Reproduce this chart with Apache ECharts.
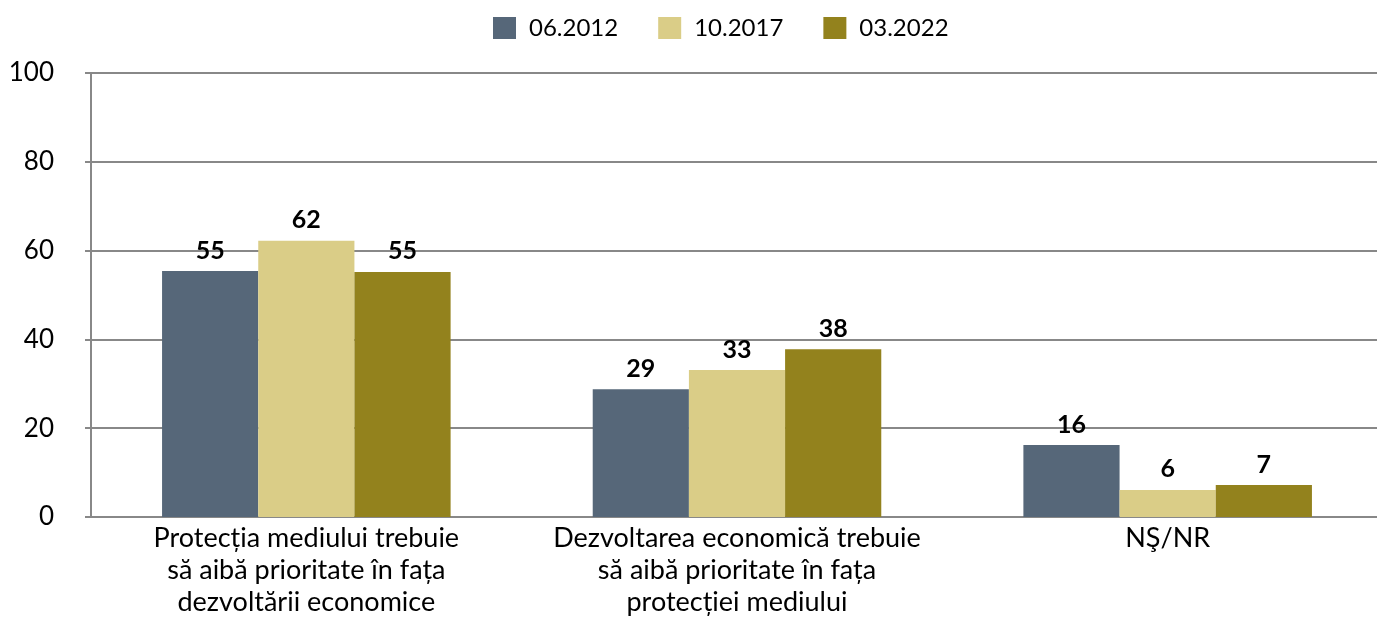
<!DOCTYPE html>
<html>
<head>
<meta charset="utf-8">
<script src="https://cdn.jsdelivr.net/npm/echarts@6/dist/echarts.min.js"></script>
<style>
  html, body { margin: 0; padding: 0; background: #fff; }
  #panel { width: 1377px; height: 619px; }
</style>
</head>
<body>
<div id="panel"></div>
<script>
// categorii si valori (%)
var categories = [
    'Protecția mediului trebuie\nsă aibă prioritate în fața\ndezvoltării economice',
    'Dezvoltarea economică trebuie\nsă aibă prioritate în fața\nprotecției mediului',
    'NŞ/NR'
];
var seriesNames = ['06.2012', '10.2017', '03.2022'];
var values2012 = [55.4, 28.8, 16.2];
var values2017 = [62.2, 33.1, 6.1];
var values2022 = [55.2, 37.8, 7.2];
var yTicks = [0, 20, 40, 60, 80, 100];

var colors = ['#566779', '#DACD87', '#93821D'];
var font = 'Lato';

chartDom = document.getElementById('panel');
myChart = echarts.init(chartDom);

function makeSeries(name, data, i) {
    return {
        name: name,
        type: 'bar',
        data: data,
        barGap: '0%',
        barCategoryGap: '33%',
        itemStyle: { color: colors[i] },
        label: {
            show: true,
            position: 'top',
            distance: 8,
            fontFamily: font,
            fontWeight: 'bold',
            fontSize: 25,
            color: '#000',
            formatter: function (p) { return Math.round(p.value); }
        }
    };
}

myChart.setOption({
    animation: false,
    textStyle: { fontFamily: font },
    legend: {
        top: 11,
        left: 488,
        itemWidth: 23,
        itemHeight: 22,
        itemGap: 40,
        icon: 'rect',
        textStyle: { fontFamily: font, fontSize: 24, color: '#000', padding: [0, 0, 0, 8] },
        data: seriesNames
    },
    grid: { left: 91, width: 1292, top: 73, bottom: 102, outerBoundsMode: 'none' },
    xAxis: {
        type: 'category',
        data: categories,
        axisLine: { lineStyle: { color: '#888', width: 2 } },
        axisTick: { show: false },
        axisLabel: {
            interval: 0,
            margin: 5,
            fontFamily: font,
            fontSize: 27,
            lineHeight: 32,
            color: '#000'
        }
    },
    yAxis: {
        type: 'value',
        min: yTicks[0],
        max: yTicks[yTicks.length - 1],
        interval: 20,
        axisLine: { show: true, lineStyle: { color: '#888', width: 2 } },
        axisTick: { show: true, length: 6, lineStyle: { color: '#888', width: 2 } },
        splitLine: { lineStyle: { color: '#888', width: 2 } },
        axisLabel: { margin: 37, fontFamily: font, fontSize: 26, color: '#000' }
    },
    series: [
        makeSeries(seriesNames[0], values2012, 0),
        makeSeries(seriesNames[1], values2017, 1),
        makeSeries(seriesNames[2], values2022, 2)
    ]
});
</script>
</body>
</html>
